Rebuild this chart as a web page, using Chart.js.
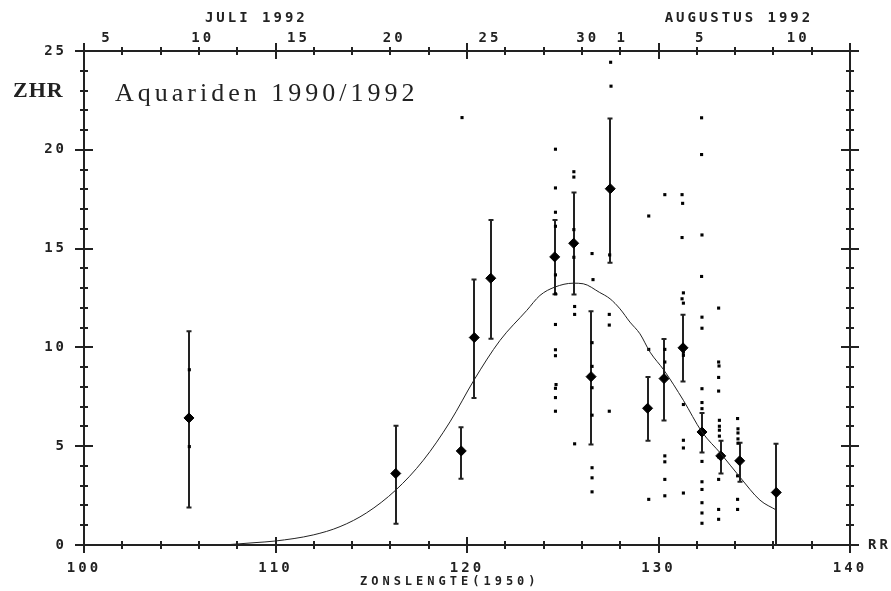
<!DOCTYPE html>
<html>
<head>
<meta charset="utf-8">
<script src="https://cdn.jsdelivr.net/npm/chart.js@4.4.0/dist/chart.umd.min.js"></script>
<style>
  body { margin: 0; background: #fff; }
  canvas { display: block; }
</style>
</head>
<body>
<canvas id="zhrChart" width="891" height="591"></canvas>
<script>
// gemiddelde ZHR per interval (zonslengte 1950) met foutgrenzen
const meanX = [105.48, 116.28, 119.70, 120.38, 121.24, 124.58, 125.57, 126.48, 127.48, 129.43, 130.29, 131.28, 132.27, 133.25, 134.24, 136.15];
const meanY = [6.43, 3.62, 4.76, 10.50, 13.50, 14.58, 15.27, 8.52, 18.03, 6.92, 8.42, 9.98, 5.72, 4.51, 4.26, 2.66];
const errLow = [1.90, 1.08, 3.35, 7.44, 10.44, 12.69, 12.68, 5.09, 14.28, 5.27, 6.30, 8.28, 4.68, 3.62, 3.20, 0];
const errHigh = [10.82, 6.03, 5.96, 13.43, 16.45, 16.45, 17.84, 11.83, 21.58, 8.50, 10.42, 11.65, 6.68, 5.27, 5.17, 5.13];

// losse waarnemingen
const dotX = [
  105.5, 105.5,
  119.74,
  124.62, 124.62, 124.62, 124.62, 124.62, 124.62, 124.62, 124.62, 124.62, 124.65, 124.62, 124.62, 124.62,
  125.58, 125.58, 125.58, 125.58, 125.62, 125.62, 125.62,
  126.53, 126.58, 126.53, 126.53, 126.53, 126.53, 126.53, 126.53, 126.53,
  127.5, 127.52, 127.45, 127.43, 127.43, 127.43,
  129.49, 129.49, 129.49,
  130.33, 130.33, 130.33, 130.33, 130.33, 130.33, 130.33,
  131.23, 131.26, 131.23, 131.3, 131.23, 131.3, 131.3, 131.3, 131.3, 131.3, 131.3, 131.3,
  132.25, 132.25, 132.27, 132.25, 132.27, 132.27, 132.27, 132.27, 132.27, 132.27, 132.27, 132.27, 132.27, 132.27, 132.27,
  133.14, 133.14, 133.16, 133.14, 133.14, 133.18, 133.18, 133.18, 133.18, 133.14, 133.14, 133.14, 133.14,
  134.13, 134.15, 134.15, 134.15, 134.15, 134.13, 134.13, 134.13
];
const dotY = [
  8.87, 4.98,
  21.63,
  20.03, 18.07, 16.84, 16.13, 13.67, 12.71, 11.16, 9.88, 9.58, 8.12, 7.93, 7.46, 6.77,
  18.89, 18.62, 15.96, 14.56, 12.07, 11.67, 5.12,
  14.75, 13.43, 10.24, 9.04, 7.96, 6.57, 3.91, 3.40, 2.69,
  24.43, 23.22, 14.68, 11.67, 11.13, 6.77,
  16.65, 9.90, 2.31,
  17.73, 9.90, 9.26, 4.51, 4.21, 3.32, 2.49,
  17.73, 17.29, 15.56, 12.76, 12.46, 12.24, 9.76, 9.60, 7.11, 5.30, 4.91, 2.63,
  21.62, 19.76, 15.69, 13.59, 11.53, 10.97, 7.91, 7.21, 6.90, 4.23, 3.20, 2.81, 2.14, 1.62, 1.10,
  11.99, 9.26, 9.06, 8.48, 7.79, 6.31, 6.01, 5.81, 5.51, 4.46, 3.32, 1.80, 1.30,
  6.40, 5.88, 5.67, 5.37, 5.15, 3.50, 2.31, 1.80
];

// aangepaste activiteitscurve
const curveX = [107.28, 108.93, 109.97, 111.97, 113.37, 114.76, 116.28, 117.72, 119.11, 120.38, 121.72, 123.12, 123.81, 124.58, 125.55, 126.07, 126.91, 127.47, 127.99, 128.51, 129.03, 129.56, 130.29, 131.30, 132.27, 133.25, 134.24, 135.30, 136.15];
const curveY = [0.0, 0.12, 0.20, 0.51, 0.93, 1.63, 2.78, 4.29, 6.23, 8.37, 10.35, 11.87, 12.63, 13.05, 13.25, 13.22, 12.79, 12.46, 11.95, 11.28, 10.69, 9.76, 8.84, 7.32, 5.72, 4.63, 3.45, 2.27, 1.77];

// datums op de bovenas
const dateVals = [101.2, 106.2, 111.2, 116.2, 121.2, 126.3, 128.1, 132.2, 137.3];
const dateLabels = ['5', '10', '15', '20', '25', '30', '1', '5', '10'];
const monthLabels = ['JULI 1992', 'AUGUSTUS 1992'];

const tickFont = { family: 'DejaVu Sans Mono', weight: 'bold', size: 14 };
const ink = '#222';

// foutbalken onder de ruiten
const errorBars = {
    id: 'errorBars',
    beforeDatasetsDraw(chart) {
        const { ctx, scales: { x, y } } = chart;
        ctx.save();
        ctx.strokeStyle = ink;
        ctx.lineWidth = 2;
        ctx.beginPath();
        meanX.forEach((v, i) => {
            const px = Math.round(x.getPixelForValue(v));
            const top = y.getPixelForValue(errHigh[i]);
            const bot = y.getPixelForValue(errLow[i]);
            ctx.moveTo(px, top); ctx.lineTo(px, bot);
            ctx.moveTo(px - 2.5, top); ctx.lineTo(px + 2.5, top);
            ctx.moveTo(px - 2.5, bot); ctx.lineTo(px + 2.5, bot);
        });
        ctx.stroke();
        ctx.restore();
    }
};

// kader met streepjes aan alle kanten + teksten
const frame = {
    id: 'frame',
    beforeDraw(chart) {
        chart.ctx.letterSpacing = '3px';
    },
    afterDraw(chart) {
        const { ctx, chartArea: a, scales: { x, y, x2 } } = chart;
        ctx.save();
        ctx.strokeStyle = ink;
        ctx.lineWidth = 2;
        ctx.strokeRect(a.left, a.top, a.right - a.left, a.bottom - a.top);
        ctx.beginPath();
        x.ticks.forEach(t => {
            const px = Math.round(x.getPixelForValue(t.value));
            const len = t.value % 10 === 0 ? 8 : 4;
            ctx.moveTo(px, a.bottom - len); ctx.lineTo(px, a.bottom + len);
            ctx.moveTo(px, a.top - len); ctx.lineTo(px, a.top + len);
        });
        y.ticks.forEach(t => {
            const py = Math.round(y.getPixelForValue(t.value));
            const len = t.value % 5 === 0 ? 9 : 4;
            ctx.moveTo(a.left - len, py); ctx.lineTo(a.left + len, py);
            ctx.moveTo(a.right - len, py); ctx.lineTo(a.right + len, py);
        });
        ctx.stroke();

        ctx.fillStyle = ink;
        ctx.font = 'bold 14px "DejaVu Sans Mono"';
        ctx.letterSpacing = '3px';
        ctx.textBaseline = 'middle';
        ctx.textAlign = 'center';
        ctx.fillText(monthLabels[0], x2.getPixelForValue(109.0), 18);
        ctx.fillText(monthLabels[1], x2.getPixelForValue(134.2), 18);
        ctx.textAlign = 'left';
        ctx.fillText('RR', a.right + 18, a.bottom);

        ctx.font = 'bold 12px "DejaVu Sans Mono"';
        ctx.letterSpacing = '4px';
        ctx.textAlign = 'center';
        ctx.fillText('ZONSLENGTE(1950)', x.getPixelForValue(119.1), 582);

        ctx.textAlign = 'left';
        ctx.textBaseline = 'alphabetic';
        ctx.font = 'bold 22px "Liberation Serif"';
        ctx.letterSpacing = '1px';
        ctx.fillText('ZHR', 13, 97);
        ctx.font = '26px "Liberation Serif"';
        ctx.letterSpacing = '4px';
        ctx.fillText('Aquariden 1990/1992', 115, 101);
        ctx.restore();
    }
};

new Chart(document.getElementById('zhrChart').getContext('2d'), {
    type: 'scatter',
    data: {
        datasets: [{
            label: 'curve',
            data: curveX.map((v, i) => ({ x: v, y: curveY[i] })),
            showLine: true,
            borderColor: ink,
            borderWidth: 1,
            pointRadius: 0,
            cubicInterpolationMode: 'monotone'
        }, {
            label: 'waarnemingen',
            data: dotX.map((v, i) => ({ x: v, y: dotY[i] })),
            pointStyle: 'rect',
            pointRadius: 2.2,
            borderWidth: 0,
            backgroundColor: '#000'
        }, {
            label: 'ZHR',
            data: meanX.map((v, i) => ({ x: v, y: meanY[i] })),
            pointStyle: 'rectRot',
            pointRadius: 5,
            borderWidth: 1,
            borderColor: '#000',
            backgroundColor: '#000'
        }]
    },
    options: {
        responsive: false,
        animation: false,
        devicePixelRatio: 1,
        layout: { padding: 0 },
        plugins: { legend: { display: false }, tooltip: { enabled: false } },
        scales: {
            x: {
                type: 'linear', position: 'bottom', min: 100, max: 140,
                afterFit: s => { s.height = 46; },
                border: { display: false },
                grid: { display: false, drawTicks: false },
                ticks: {
                    stepSize: 2, autoSkip: false, maxRotation: 0, padding: 15,
                    color: ink, font: tickFont,
                    callback: v => (v % 10 === 0 ? String(v) : '')
                }
            },
            x2: {
                type: 'linear', position: 'top', min: 100, max: 140,
                afterFit: s => { s.height = 51; },
                afterBuildTicks: s => { s.ticks = dateVals.map(v => ({ value: v })); },
                border: { display: false },
                grid: { display: false, drawTicks: false },
                ticks: {
                    autoSkip: false, maxRotation: 0, padding: 4,
                    color: ink, font: tickFont,
                    callback: (v, i) => dateLabels[i]
                }
            },
            y: {
                type: 'linear', position: 'left', min: 0, max: 25,
                afterFit: s => { s.width = 84; },
                border: { display: false },
                grid: { display: false, drawTicks: false },
                ticks: {
                    stepSize: 1, autoSkip: false, padding: 17,
                    color: ink, font: tickFont,
                    callback: v => (v % 5 === 0 ? String(v) : '')
                }
            },
            y2: {
                type: 'linear', position: 'right', min: 0, max: 25,
                afterFit: s => { s.width = 41; },
                border: { display: false },
                grid: { display: false, drawTicks: false },
                ticks: { display: false }
            }
        }
    },
    plugins: [errorBars, frame]
});
</script>
</body>
</html>
